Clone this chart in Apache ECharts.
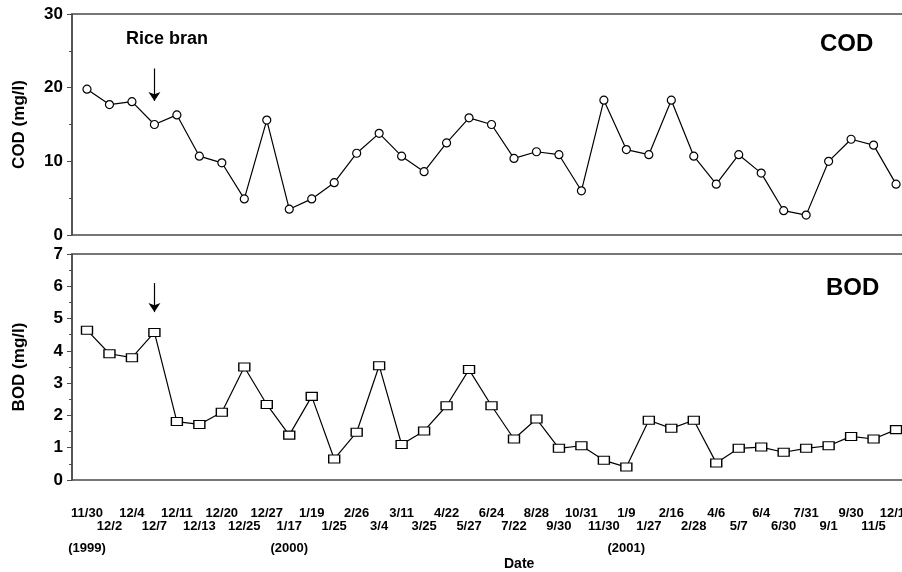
<!DOCTYPE html>
<html>
<head>
<meta charset="utf-8">
<script src="https://cdn.jsdelivr.net/npm/echarts@6/dist/echarts.min.js"></script>
<style>
html, body { margin: 0; padding: 0; background: #fff; }
#main { width: 902px; height: 572px; }
</style>
</head>
<body>
<div id="main"></div>
<script>
var dom = document.getElementById('main');
var myChart = echarts.init(dom);

// sampling dates (two label rows alternate)
var dates = ['11/30', '12/2', '12/4', '12/7', '12/11', '12/13', '12/20', '12/25', '12/27',
    '1/17', '1/19', '1/25', '2/26', '3/4', '3/11', '3/25', '4/22', '5/27', '6/24', '7/22',
    '8/28', '9/30', '10/31', '11/30', '1/9', '1/27', '2/16', '2/28', '4/6', '5/7', '6/4',
    '6/30', '7/31', '9/1', '9/30', '11/5', '12/17'];
// year marks under the first date of each year
var years = {0: '(1999)', 9: '(2000)', 24: '(2001)'};

var cod = [19.8, 17.7, 18.1, 15.0, 16.3, 10.7, 9.8, 4.9, 15.6, 3.5, 4.9, 7.1, 11.1, 13.8,
    10.7, 8.6, 12.5, 15.9, 15.0, 10.4, 11.3, 10.9, 6.0, 18.3, 11.6, 10.9, 18.3, 10.7, 6.9,
    10.9, 8.4, 3.3, 2.7, 10.0, 13.0, 12.2, 6.9];
var bod = [4.64, 3.91, 3.79, 4.57, 1.81, 1.72, 2.10, 3.50, 2.34, 1.39, 2.59, 0.65, 1.48,
    3.54, 1.10, 1.52, 2.30, 3.42, 2.30, 1.27, 1.89, 0.98, 1.06, 0.61, 0.40, 1.85, 1.60,
    1.85, 0.53, 0.98, 1.02, 0.86, 0.98, 1.06, 1.35, 1.27, 1.56];

var riceBranIdx = 3;
var font = "'Liberation Sans', Arial, sans-serif";
var frame = '#4a4a4a';

function pairs(arr) {
    return arr.map(function (v, i) { return [i, v]; });
}

function yAxisOf(gridIdx, name, max, interval) {
    return {
        gridIndex: gridIdx,
        type: 'value',
        min: 0,
        max: max,
        interval: interval,
        name: name,
        nameLocation: 'middle',
        nameGap: 44,
        nameTextStyle: {fontFamily: font, fontWeight: 'bold', fontSize: 17, color: '#000'},
        axisLine: {show: true, onZero: false, lineStyle: {color: frame, width: 1.5}},
        axisTick: {show: true, length: 5, lineStyle: {color: frame}},
        minorTick: {show: true, splitNumber: 2, length: 3, lineStyle: {color: frame}},
        axisLabel: {fontFamily: font, fontWeight: 'bold', fontSize: 17, color: '#000', margin: 9},
        splitLine: {show: false}
    };
}

function xFrame(gridIdx) {
    return {
        gridIndex: gridIdx,
        type: 'value',
        min: -0.667,
        max: 36.71,
        axisLine: {show: false},
        axisTick: {show: false},
        axisLabel: {show: false},
        splitLine: {show: false}
    };
}

option = {
    animation: false,
    grid: [
        {left: 72, top: 14, width: 840, height: 221, show: true, borderColor: frame, borderWidth: 1.5, outerBoundsMode: 'none'},
        {left: 72, top: 254, width: 840, height: 226, show: true, borderColor: frame, borderWidth: 1.5, outerBoundsMode: 'none'},
        {left: 87, top: 400, width: 809, height: 82, show: false, outerBoundsMode: 'none'}
    ],
    xAxis: [
        xFrame(0),
        xFrame(1),
        {
            gridIndex: 2,
            type: 'category',
            data: dates,
            boundaryGap: false,
            axisLine: {show: false},
            axisTick: {show: false},
            splitLine: {show: false},
            axisLabel: {
                interval: 0,
                margin: 25,
                formatter: function (val, idx) {
                    var s = idx % 2 === 0 ? '{a|' + val + '}\n{a| }' : '{a| }\n{a|' + val + '}';
                    if (years[idx]) s += '\n{y|' + years[idx] + '}';
                    return s;
                },
                rich: {
                    a: {fontFamily: font, fontWeight: 'bold', fontSize: 13, lineHeight: 13, color: '#000'},
                    y: {fontFamily: font, fontWeight: 'bold', fontSize: 13, lineHeight: 31, color: '#000'}
                }
            }
        }
    ],
    yAxis: [
        yAxisOf(0, 'COD (mg/l)', 30, 10),
        yAxisOf(1, 'BOD (mg/l)', 7, 1),
        {gridIndex: 2, type: 'value', show: false}
    ],
    graphic: [
        {type: 'text', left: 126, top: 30, style: {text: 'Rice bran', font: 'bold 18px ' + font, fill: '#000'}},
        {type: 'text', left: 820, top: 32, style: {text: 'COD', font: 'bold 24px ' + font, fill: '#000'}},
        {type: 'text', left: 826, top: 276, style: {text: 'BOD', font: 'bold 24px ' + font, fill: '#000'}},
        {type: 'text', left: 504, top: 557, style: {text: 'Date', font: 'bold 14px ' + font, fill: '#000'}}
    ],
    series: [
        {
            name: 'COD',
            type: 'line',
            xAxisIndex: 0,
            yAxisIndex: 0,
            data: pairs(cod),
            symbol: 'circle',
            symbolSize: 8,
            lineStyle: {color: '#000', width: 1.2},
            itemStyle: {color: '#fff', borderColor: '#000', borderWidth: 1.2},
            markLine: {
                silent: true,
                symbol: ['none', 'arrow'],
                symbolSize: 9,
                label: {show: false},
                lineStyle: {color: '#000', width: 1.2, type: 'solid'},
                data: [[{coord: [riceBranIdx, 22.6]}, {coord: [riceBranIdx, 18.2]}]]
            }
        },
        {
            name: 'BOD',
            type: 'line',
            xAxisIndex: 1,
            yAxisIndex: 1,
            data: pairs(bod),
            symbol: 'rect',
            symbolSize: [11, 8],
            lineStyle: {color: '#000', width: 1.2},
            itemStyle: {color: '#fff', borderColor: '#000', borderWidth: 1.2},
            markLine: {
                silent: true,
                symbol: ['none', 'arrow'],
                symbolSize: 9,
                label: {show: false},
                lineStyle: {color: '#000', width: 1.2, type: 'solid'},
                data: [[{coord: [riceBranIdx, 6.1]}, {coord: [riceBranIdx, 5.2]}]]
            }
        }
    ]
};

if (option && typeof option === 'object') {
    myChart.setOption(option, true);
}
</script>
</body>
</html>
